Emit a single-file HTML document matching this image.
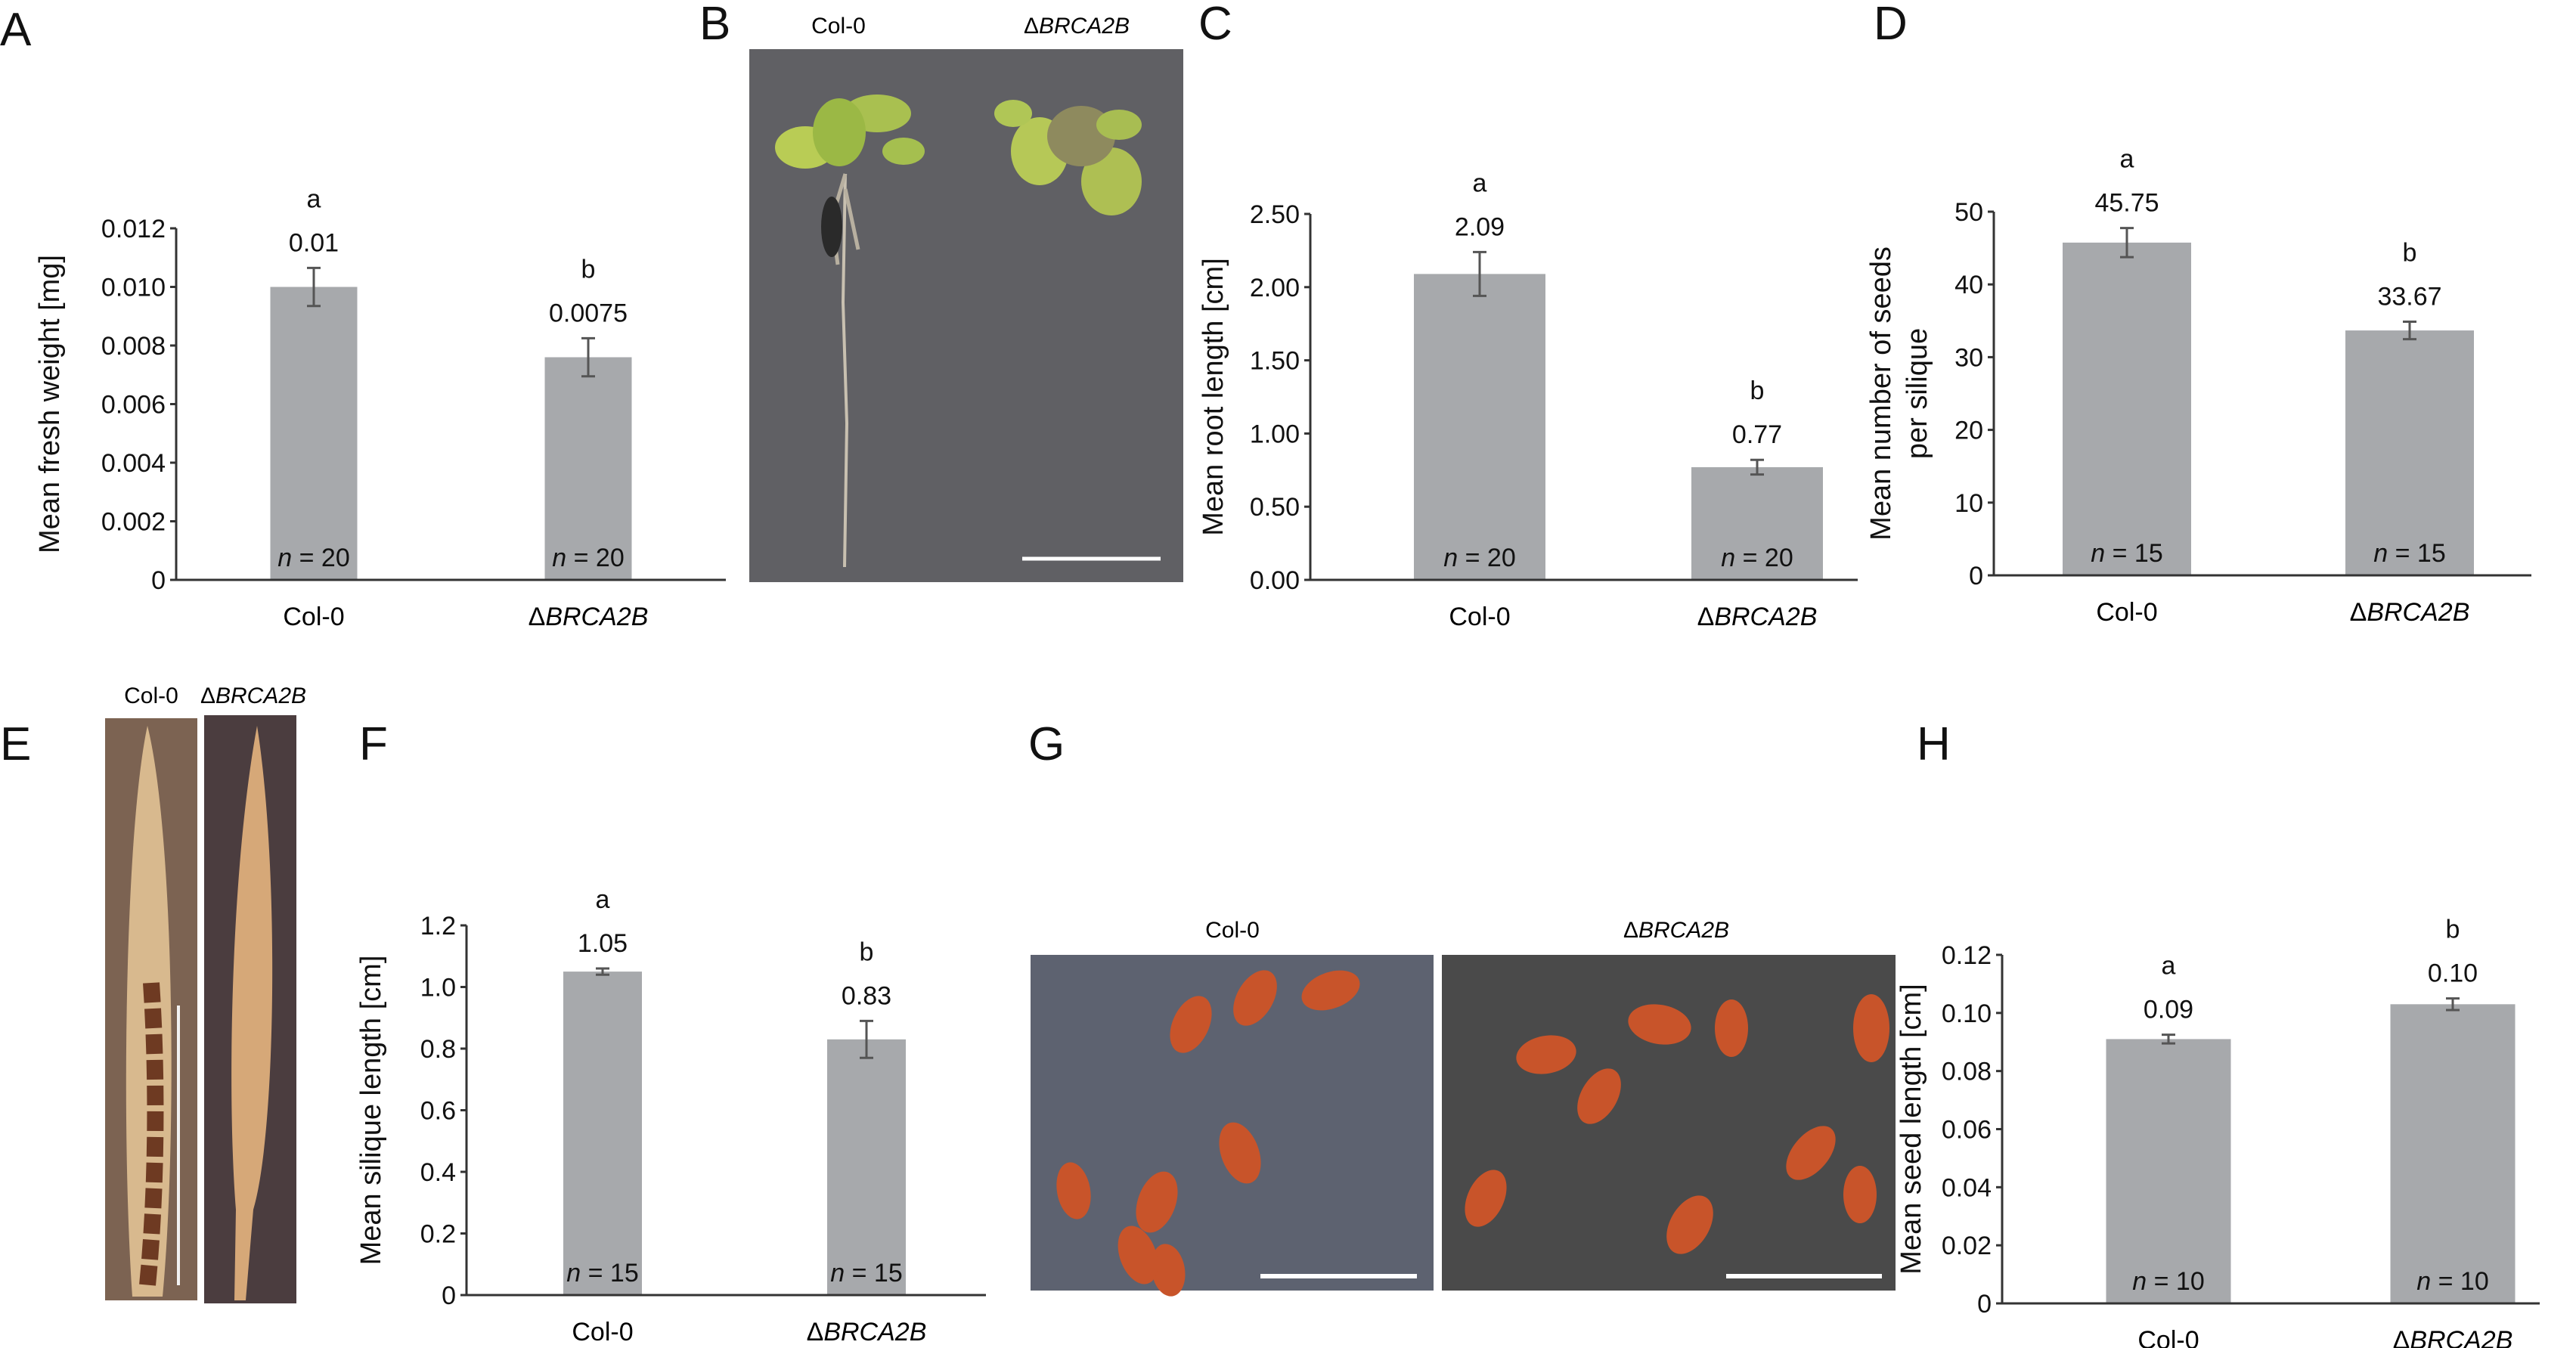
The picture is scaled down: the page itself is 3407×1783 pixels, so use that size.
<!DOCTYPE html>
<html><head><meta charset="utf-8"><style>
body{margin:0;background:#fff}
svg{display:block;font-family:"Liberation Sans",sans-serif}
</style></head><body>
<svg id="fig" width="3407" height="1783" viewBox="0 0 3407 1783" xmlns="http://www.w3.org/2000/svg">
<rect width="3407" height="1783" fill="#fff"/>
<g font-size="62" fill="#111">
<text x="0" y="60">A</text>
<text x="925" y="52">B</text>
<text x="1585" y="52">C</text>
<text x="2478" y="52">D</text>
<text x="0" y="1005">E</text>
<text x="475" y="1005">F</text>
<text x="1360" y="1005">G</text>
<text x="2535" y="1005">H</text>
</g>
<!-- Photo B -->
<g>
<text x="1109" y="44" font-size="30" text-anchor="middle">Col-0</text>
<text x="1424" y="44" font-size="30" text-anchor="middle">Δ<tspan font-style="italic">BRCA2B</tspan></text>
<rect x="991" y="65" width="574" height="705" fill="#606064"/>
<path d="M1118 230 L1115 400 L1120 560 L1117 750" stroke="#c8c0b0" stroke-width="4" fill="none"/>
<path d="M1118 230 L1100 290 L1108 350 M1118 250 L1135 330" stroke="#b8b0a0" stroke-width="5" fill="none"/>
<ellipse cx="1100" cy="300" rx="14" ry="40" fill="#2a2a2a"/>
<ellipse cx="1065" cy="195" rx="40" ry="28" fill="#b9cc55"/>
<ellipse cx="1160" cy="150" rx="45" ry="25" fill="#a9c050"/>
<ellipse cx="1110" cy="175" rx="35" ry="45" fill="#9bb845"/>
<ellipse cx="1195" cy="200" rx="28" ry="18" fill="#a5bf4f"/>
<ellipse cx="1375" cy="200" rx="38" ry="45" fill="#b6c857"/>
<ellipse cx="1470" cy="240" rx="40" ry="45" fill="#aebf53"/>
<ellipse cx="1430" cy="180" rx="45" ry="40" fill="#8e8a5e"/>
<ellipse cx="1480" cy="165" rx="30" ry="20" fill="#a8bd52"/>
<ellipse cx="1340" cy="150" rx="25" ry="18" fill="#b0c656"/>
<line x1="1352" y1="739" x2="1535" y2="739" stroke="#fff" stroke-width="5"/>
</g>
<!-- Photos E -->
<g>
<text x="200" y="930" font-size="30" text-anchor="middle">Col-0</text>
<text x="335" y="930" font-size="30" text-anchor="middle">Δ<tspan font-style="italic">BRCA2B</tspan></text>
<rect x="139" y="950" width="122" height="770" fill="#7c6352"/>
<path d="M195 960 C230 1100 235 1500 215 1715 L175 1715 C160 1500 165 1100 195 960Z" fill="#d8b98e"/>
<path d="M200 1300 C210 1450 205 1600 195 1700" stroke="#6e3a22" stroke-width="22" fill="none" stroke-dasharray="26 8"/>
<line x1="236" y1="1330" x2="236" y2="1700" stroke="#f2f2f2" stroke-width="4"/>
<rect x="270" y="946" width="122" height="778" fill="#4b3d3f"/>
<path d="M340 960 C370 1150 365 1500 335 1600 L325 1720 L310 1720 L312 1600 C300 1450 305 1150 340 960Z" fill="#d6a878"/>
<line x1="425" y1="1330" x2="425" y2="1680" stroke="#fff" stroke-width="5"/>
</g>
<!-- Photos G -->
<g>
<text x="1630" y="1240" font-size="30" text-anchor="middle">Col-0</text>
<text x="2217" y="1240" font-size="30" text-anchor="middle">Δ<tspan font-style="italic">BRCA2B</tspan></text>
<rect x="1363" y="1263" width="533" height="444" fill="#5d6270"/>
<rect x="1907" y="1263" width="600" height="444" fill="#4a4a4a"/>
<g fill="#c8542a">
<ellipse cx="1575" cy="1355" rx="24" ry="40" transform="rotate(25 1575 1355)"/>
<ellipse cx="1660" cy="1320" rx="24" ry="40" transform="rotate(30 1660 1320)"/>
<ellipse cx="1760" cy="1310" rx="40" ry="24" transform="rotate(-20 1760 1310)"/>
<ellipse cx="1640" cy="1525" rx="25" ry="42" transform="rotate(-20 1640 1525)"/>
<ellipse cx="1420" cy="1575" rx="22" ry="38" transform="rotate(-10 1420 1575)"/>
<ellipse cx="1530" cy="1590" rx="25" ry="42" transform="rotate(20 1530 1590)"/>
<ellipse cx="1545" cy="1680" rx="22" ry="35" transform="rotate(-10 1545 1680)"/>
<ellipse cx="1505" cy="1660" rx="24" ry="40" transform="rotate(-20 1505 1660)"/>
<ellipse cx="2045" cy="1395" rx="40" ry="25" transform="rotate(-10 2045 1395)"/>
<ellipse cx="2195" cy="1355" rx="42" ry="26" transform="rotate(10 2195 1355)"/>
<ellipse cx="2115" cy="1450" rx="24" ry="40" transform="rotate(30 2115 1450)"/>
<ellipse cx="2290" cy="1360" rx="22" ry="38"/>
<ellipse cx="2475" cy="1360" rx="24" ry="45"/>
<ellipse cx="2395" cy="1525" rx="24" ry="42" transform="rotate(40 2395 1525)"/>
<ellipse cx="1965" cy="1585" rx="24" ry="40" transform="rotate(25 1965 1585)"/>
<ellipse cx="2235" cy="1620" rx="26" ry="42" transform="rotate(30 2235 1620)"/>
<ellipse cx="2460" cy="1580" rx="22" ry="38"/>
</g>
<line x1="1667" y1="1688" x2="1874" y2="1688" stroke="#fff" stroke-width="6"/>
<line x1="2283" y1="1688" x2="2489" y2="1688" stroke="#fff" stroke-width="6"/>
</g>
<g id="charts"></g>
</svg>
<script>
// Panel A
const aCategories = ["Col-0", "ΔBRCA2B"];
const aValues = [0.0100, 0.0076];
const aErrors = [0.00065, 0.00065];
const aValueLabels = ["0.01", "0.0075"];
const aLetters = ["a", "b"];
const aN = [20, 20];
const aTicks = [0, 0.002, 0.004, 0.006, 0.008, 0.010, 0.012];
const aTickLabels = ["0", "0.002", "0.004", "0.006", "0.008", "0.010", "0.012"];
// Panel C
const cCategories = ["Col-0", "ΔBRCA2B"];
const cValues = [2.09, 0.77];
const cErrors = [0.15, 0.05];
const cValueLabels = ["2.09", "0.77"];
const cLetters = ["a", "b"];
const cN = [20, 20];
const cTicks = [0, 0.5, 1, 1.5, 2, 2.5];
const cTickLabels = ["0.00", "0.50", "1.00", "1.50", "2.00", "2.50"];
// Panel D
const dCategories = ["Col-0", "ΔBRCA2B"];
const dValues = [45.75, 33.67];
const dErrors = [2.0, 1.2];
const dValueLabels = ["45.75", "33.67"];
const dLetters = ["a", "b"];
const dN = [15, 15];
const dTicks = [0, 10, 20, 30, 40, 50];
const dTickLabels = ["0", "10", "20", "30", "40", "50"];
// Panel F
const fCategories = ["Col-0", "ΔBRCA2B"];
const fValues = [1.05, 0.83];
const fErrors = [0.01, 0.06];
const fValueLabels = ["1.05", "0.83"];
const fLetters = ["a", "b"];
const fN = [15, 15];
const fTicks = [0, 0.2, 0.4, 0.6, 0.8, 1.0, 1.2];
const fTickLabels = ["0", "0.2", "0.4", "0.6", "0.8", "1.0", "1.2"];
// Panel H
const hCategories = ["Col-0", "ΔBRCA2B"];
const hValues = [0.091, 0.103];
const hErrors = [0.0015, 0.002];
const hValueLabels = ["0.09", "0.10"];
const hLetters = ["a", "b"];
const hN = [10, 10];
const hTicks = [0, 0.02, 0.04, 0.06, 0.08, 0.10, 0.12];
const hTickLabels = ["0", "0.02", "0.04", "0.06", "0.08", "0.10", "0.12"];

const NS = "http://www.w3.org/2000/svg";
const root = document.getElementById("charts");
function mk(tag, attrs, parent) {
  const e = document.createElementNS(NS, tag);
  for (const k in attrs) e.setAttribute(k, attrs[k]);
  parent.appendChild(e);
  return e;
}
function catText(parent, x, y, label) {
  const t = mk("text", {x: x, y: y, "text-anchor": "middle", "font-size": 34}, parent);
  if (label.startsWith("Δ")) {
    t.textContent = "Δ";
    const ts = mk("tspan", {"font-style": "italic"}, t);
    ts.textContent = label.slice(1);
  } else t.textContent = label;
  return t;
}
function chart(id, cfg, cats, vals, errs, vlabels, letters, ns, ticks, tickLabels) {
  const g = mk("g", {}, root);
  
  
  const ymax = ticks[ticks.length - 1];
  const y = v => cfg.y0 - (v / ymax) * (cfg.y0 - cfg.yTop);
  const bw = cfg.bw;
  const xc = i => cfg.centers[i];
  const ax = mk("g", {}, g);
  
  
  mk("line", {x1: cfg.ax, y1: cfg.yTop, x2: cfg.ax, y2: cfg.y0, stroke: "#333", "stroke-width": 3}, ax);
  ticks.forEach((t, i) => {
    mk("line", {x1: cfg.ax - 8, y1: y(t), x2: cfg.ax, y2: y(t), stroke: "#333", "stroke-width": 3}, ax);
    const tl = mk("text", {x: cfg.ax - 14, y: y(t) + 12, "text-anchor": "end", "font-size": 34, fill: "#111"}, ax);
    
    
    tl.textContent = tickLabels[i];
  });
  const xl = mk("line", {x1: cfg.ax, y1: cfg.y0, x2: cfg.xEnd, y2: cfg.y0, stroke: "#333", "stroke-width": 3}, g);
  
  
  const tt = mk("text", {transform: `translate(${cfg.titleX},${(cfg.y0 + cfg.yTop) / 2}) rotate(-90)`, "text-anchor": "middle", "font-size": 38, fill: "#111"}, g);
  
  
  cfg.title.forEach((line, k) => {
    const ts = mk("tspan", {x: 0, dy: k === 0 ? 0 : 48}, tt);
    ts.textContent = line;
  });
  cats.forEach((c, i) => {
    const bar = mk("rect", {x: xc(i) - bw / 2, y: y(vals[i]), width: bw, height: cfg.y0 - y(vals[i]) - 1.5, fill: "#a7a9ac"}, g);
    
    
    const eg = mk("g", {stroke: "#555", "stroke-width": 3}, g);
    
    
    const yt = y(vals[i] + errs[i]), yb = y(vals[i] - errs[i]);
    mk("line", {x1: xc(i), y1: yt, x2: xc(i), y2: yb}, eg);
    mk("line", {x1: xc(i) - 9, y1: yt, x2: xc(i) + 9, y2: yt}, eg);
    mk("line", {x1: xc(i) - 9, y1: yb, x2: xc(i) + 9, y2: yb}, eg);
    const vl = mk("text", {x: xc(i), y: yt - 22, "text-anchor": "middle", "font-size": 34, fill: "#111"}, g);
    
    
    vl.textContent = vlabels[i];
    const lt = mk("text", {x: xc(i), y: yt - 80, "text-anchor": "middle", "font-size": 34, fill: "#111"}, g);
    
    
    lt.textContent = letters[i];
    const nt = mk("text", {x: xc(i), y: cfg.y0 - 18, "text-anchor": "middle", "font-size": 34, fill: "#111"}, g);
    
    
    const ni = mk("tspan", {"font-style": "italic"}, nt);
    ni.textContent = "n";
    const nr = mk("tspan", {}, nt);
    nr.textContent = " = " + ns[i];
    const cl = catText(g, xc(i), cfg.y0 + 60, c);
    
    
  });
}
chart("a", {ax: 233, y0: 767, yTop: 302, xEnd: 960, bw: 115, centers: [415, 778], titleX: 78, title: ["Mean fresh weight [mg]"]},
  aCategories, aValues, aErrors, aValueLabels, aLetters, aN, aTicks, aTickLabels);
chart("c", {ax: 1733, y0: 767, yTop: 283, xEnd: 2457, bw: 174, centers: [1957, 2324], titleX: 1617, title: ["Mean root length [cm]"]},
  cCategories, cValues, cErrors, cValueLabels, cLetters, cN, cTicks, cTickLabels);
chart("d", {ax: 2637, y0: 761, yTop: 280, xEnd: 3348, bw: 170, centers: [2813, 3187], titleX: 2500, title: ["Mean number of seeds", "per silique"]},
  dCategories, dValues, dErrors, dValueLabels, dLetters, dN, dTicks, dTickLabels);
chart("f", {ax: 617, y0: 1713, yTop: 1224, xEnd: 1304, bw: 104, centers: [797, 1146], titleX: 503, title: ["Mean silique length [cm]"]},
  fCategories, fValues, fErrors, fValueLabels, fLetters, fN, fTicks, fTickLabels);
chart("h", {ax: 2648, y0: 1724, yTop: 1263, xEnd: 3359, bw: 165, centers: [2868, 3244], titleX: 2540, title: ["Mean seed length [cm]"]},
  hCategories, hValues, hErrors, hValueLabels, hLetters, hN, hTicks, hTickLabels);
</script>
</body></html>
